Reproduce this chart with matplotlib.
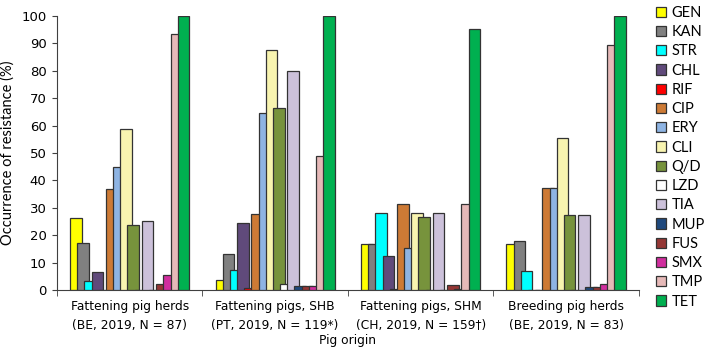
import numpy as np
import matplotlib.pyplot as plt
from matplotlib.patches import Patch

groups = ["Fattening pig herds\n(BE, 2019, N = 87)",
          "Fattening pigs, SHB\n(PT, 2019, N = 119*)",
          "Fattening pigs, SHM\n(CH, 2019, N = 159\u2020)",
          "Breeding pig herds\n(BE, 2019, N = 83)"]

antibiotics = ["GEN", "KAN", "STR", "CHL", "RIF", "CIP", "ERY", "CLI",
               "Q/D", "LZD", "TIA", "MUP", "FUS", "SMX", "TMP", "TET"]

# resistance (%) per antibiotic, one value per group
GEN = [26.2, 3.9, 16.9, 16.8]
KAN = [17.1, 13.1, 16.9, 18.0]
STR = [3.2, 7.3, 28.1, 7.0]
CHL = [6.8, 24.4, 12.4, 0]
RIF = [0, 0.7, 0.6, 0]
CIP = [36.8, 27.7, 31.5, 37.1]
ERY = [44.8, 64.7, 15.5, 37.1]
CLI = [58.6, 87.4, 28.3, 55.3]
QD = [23.9, 66.3, 26.8, 27.4]
LZD = [0, 2.4, 0, 0]
TIA = [25.2, 79.9, 28.3, 27.4]
MUP = [0, 1.7, 0, 1.1]
FUS = [2.2, 1.7, 1.8, 1.1]
SMX = [5.6, 1.7, 0.6, 2.3]
TMP = [93.2, 48.8, 31.4, 89.2]
TET = [100, 100, 95.0, 100]

values = [GEN, KAN, STR, CHL, RIF, CIP, ERY, CLI, QD, LZD, TIA, MUP, FUS, SMX, TMP, TET]

colors = ["#FFFF00", "#808080", "#00FFFF", "#604A7B", "#FF0000", "#CD7A35",
          "#8EB4E3", "#F8F4B0", "#77933C", "#FFFFFF", "#CCC1DA", "#1F497D",
          "#953735", "#D02E9E", "#E6B9B8", "#00B050"]

fig = plt.figure(figsize=(7.09, 3.54), dpi=100)
ax = fig.add_axes([0.0804, 0.18, 0.8206, 0.7757])

x = np.arange(len(groups))
step = 0.0493
width = 0.080
for i, (name, vals, col) in enumerate(zip(antibiotics, values, colors)):
    ax.bar(x + (i - 7.5) * step, vals, width, color=col, edgecolor="#333333",
           linewidth=0.9, label=name, zorder=2 + i)

ax.set_xlim(-0.5, 3.5)
ax.set_ylim(0, 100)
ax.set_yticks(range(0, 101, 10))
ax.tick_params(axis="y", labelsize=9.5, length=3.6, pad=4, color="#404040")
ax.set_xticks(x)
ax.set_xticklabels(groups, fontsize=8.8, linespacing=1.55)
ax.tick_params(axis="x", length=0, pad=7)
ax.set_xticks(np.arange(-0.5, 3.6, 1), minor=True)
ax.tick_params(axis="x", which="minor", length=4, color="#404040")
for s in ["top", "right"]:
    ax.spines[s].set_visible(False)
for s in ["left", "bottom"]:
    ax.spines[s].set_color("#404040")
ax.set_ylabel("Occurrence of resistance (%)", fontsize=10.5, family="Lato", labelpad=5)
ax.set_xlabel("Pig origin", fontsize=8.8, labelpad=2)

handles = [Patch(facecolor=c, edgecolor="#333333", linewidth=0.9) for c in colors]
fig.legend(handles, antibiotics, loc="upper left", bbox_to_anchor=(0.917, 1.0),
           frameon=False, handlelength=0.7, handleheight=0.7,
           handletextpad=0.35, labelspacing=0.36, borderaxespad=0,
           prop={"family": "Lato", "size": 10.5})

fig.savefig("out.png", dpi=100)
